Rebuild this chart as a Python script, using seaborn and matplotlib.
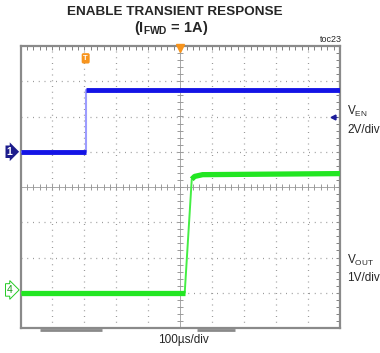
import numpy as np
import pandas as pd
import matplotlib
matplotlib.use("Agg")
import matplotlib.pyplot as plt
import matplotlib.transforms as mtransforms
import seaborn as sns

# ---------------- data ----------------
# time in microseconds (100 us/div, 10 divisions)
ven_time = [0, 204, 204, 1000]
ven_volts = [0.0, 0.0, 3.48, 3.48]
ven_seg = ["lo", "lo", "hi", "hi"]

vout_time = [0, 514, 536, 545, 570, 1000]
vout_volts = [0.0, 0.0, 3.22, 3.30, 3.35, 3.38]
vout_seg = ["lo", "lo", "hi", "hi", "hi", "hi"]

ven_scale, ven_offset = 2.0, 1.0      # 2V/div, ground at +1 div
vout_scale, vout_offset = 1.0, -3.0   # 1V/div, ground at -3 div

title_lines = ["ENABLE TRANSIENT RESPONSE", r"(I$_{\mathbf{FWD}}$ = 1A)"]
ch_labels = [(r"V$_{\mathrm{EN}}$", "2V/div"), (r"V$_{\mathrm{OUT}}$", "1V/div")]
time_label = "100µs/div"
toc_label = "toc23"

# ---------------- style ----------------
sns.set_style("white")
plt.rcParams["font.family"] = ["Liberation Sans", "DejaVu Sans"]
plt.rcParams["mathtext.fontset"] = "custom"
plt.rcParams["mathtext.rm"] = "Liberation Sans"
plt.rcParams["mathtext.it"] = "Liberation Sans:italic"
plt.rcParams["mathtext.bf"] = "Liberation Sans:bold"
plt.rcParams["lines.solid_capstyle"] = "butt"

W, H = 380, 353
fig = plt.figure(figsize=(W / 100, H / 100), dpi=100)
L, R, T, B = 20.5, 340, 46, 328
ax = fig.add_axes([L / W, 1 - B / H, (R - L) / W, (B - T) / H])

ven = pd.DataFrame({"t": ven_time, "v": ven_volts, "seg": ven_seg})
ven["div"] = ven["v"] / ven_scale + ven_offset
vout = pd.DataFrame({"t": vout_time, "v": vout_volts, "seg": vout_seg})
vout["div"] = vout["v"] / vout_scale + vout_offset

grid_c = "#9a9a9a"
# grid
for xv in range(100, 1000, 100):
    if xv != 500:
        ax.axvline(xv, color=grid_c, lw=0.9, ls=(0, (0.8, 3.8)), zorder=1)
for yv in [-3, -2, -1, 1, 2, 3]:
    ax.axhline(yv, color=grid_c, lw=0.9, ls=(0, (0.8, 3.8)), zorder=1)
# center crosshair
ax.axhline(0, color=grid_c, lw=0.6, zorder=1)
ax.axvline(500, color=grid_c, lw=0.6, zorder=1)
mx = np.arange(20, 1000, 20)
ax.plot(mx, np.zeros_like(mx), ls="none", marker="|", ms=4, mew=0.7, color=grid_c, zorder=1)
my = np.arange(-3.8, 4.0, 0.2)
ax.plot(np.full_like(my, 500), my, ls="none", marker="_", ms=4, mew=0.7, color=grid_c, zorder=1)

# traces: thin light edges first, then thick flat parts
sns.lineplot(data=ven, x="t", y="div", color="#9c9cff", lw=1.5, sort=False,
             estimator=None, ax=ax, zorder=3)
sns.lineplot(data=ven, x="t", y="div", units="seg", estimator=None, color="#1414e6",
             lw=3.5, ax=ax, zorder=4)
sns.lineplot(data=vout, x="t", y="div", color="#44ee44", lw=1.4, sort=False,
             estimator=None, ax=ax, zorder=3)
sns.lineplot(data=vout, x="t", y="div", units="seg", estimator=None, color="#22e622",
             lw=3.8, ax=ax, zorder=4)

ax.set_xlim(0, 1000)
ax.set_ylim(-4, 4)
ax.set_xlabel("")
ax.set_ylabel("")
ax.set_xticks(np.arange(0, 1001, 100))
ax.set_yticks(np.arange(-4, 5, 1))
ax.set_xticks(np.arange(0, 1001, 20), minor=True)
ax.set_yticks(np.arange(-4, 4.01, 0.2), minor=True)
ax.tick_params(which="both", direction="in", length=3, width=0.7, color="#808080",
               top=True, right=True, labelbottom=False, labelleft=False)
for s in ax.spines.values():
    s.set_color("#8a8a8a")
    s.set_linewidth(1.6)

# scope decorations
ax.plot([500], [3.93], marker="v", ms=6, color="#f7941d", clip_on=False, zorder=6)
ax.text(204, 3.65, "T", ha="center", va="center", fontsize=5.5, fontweight="bold",
        color="white", bbox=dict(boxstyle="round,pad=0.22", fc="#f7941d", ec="none"), zorder=6)
ax.plot([978], [2.0], marker="<", ms=3.5, color="#1c1c9a", zorder=6)
ax.plot([978, 990], [2.0, 2.0], color="#1c1c9a", lw=0.8, zorder=6)
bt = mtransforms.blended_transform_factory(ax.transData, ax.transAxes)
ax.plot([61, 255], [-0.006, -0.006], color="#8a8a8a", lw=2.0, transform=bt, clip_on=False)
ax.plot([552, 670], [-0.006, -0.006], color="#8a8a8a", lw=2.0, transform=bt, clip_on=False)

lt = mtransforms.blended_transform_factory(ax.transAxes, ax.transData)
ax.text(-0.034, ven_offset, "1", transform=lt, ha="center", va="center", fontsize=7.5,
        fontweight="bold", color="white",
        bbox=dict(boxstyle="rarrow,pad=0.12", fc="#1c1c8c", ec="none"), clip_on=False)
ax.text(-0.034, vout_offset + 0.08, "4", transform=lt, ha="center", va="center", fontsize=7.5,
        color="#1a9a1a",
        bbox=dict(boxstyle="rarrow,pad=0.12", fc="white", ec="#22cc22", lw=0.7), clip_on=False)

# texts
fig.text(174.5 / W, 1 - 12 / H, title_lines[0], ha="center", va="center",
         fontsize=9.7, fontweight="bold",
         family=["Liberation Sans Narrow", "Liberation Sans", "DejaVu Sans"])
fig.text(171 / W, 1 - 28 / H, title_lines[1], ha="center", va="center",
         fontsize=10.5, fontweight="bold")
fig.text(331 / W, 1 - 39 / H, toc_label, ha="center", va="center", fontsize=6.5)
fig.text(183 / W, 1 - 340 / H, time_label, ha="center", va="center", fontsize=8.5)
fig.text(347 / W, 1 - 111 / H, ch_labels[0][0], ha="left", va="center", fontsize=8.5)
fig.text(347 / W, 1 - 130 / H, ch_labels[0][1], ha="left", va="center", fontsize=8.5)
fig.text(347 / W, 1 - 260 / H, ch_labels[1][0], ha="left", va="center", fontsize=8.5)
fig.text(347 / W, 1 - 278 / H, ch_labels[1][1], ha="left", va="center", fontsize=8.5)

fig.savefig("out.png", dpi=100)
